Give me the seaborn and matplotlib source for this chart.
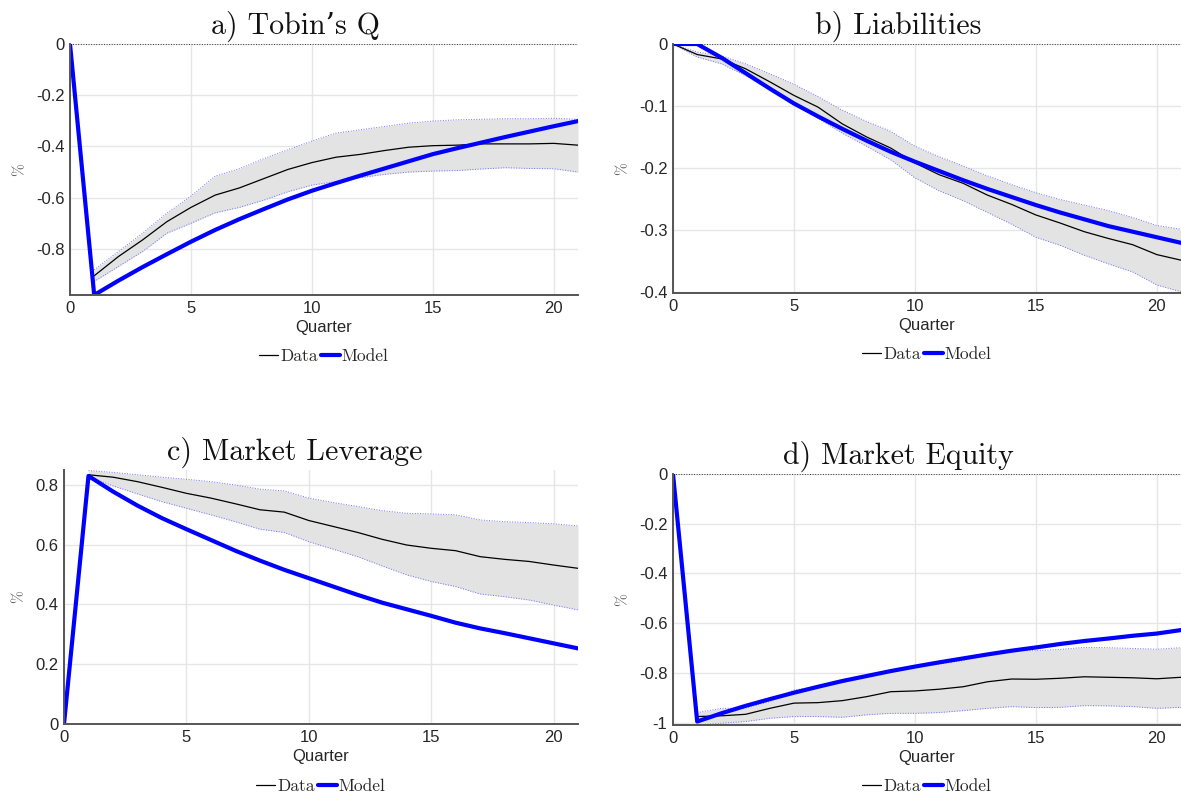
import numpy as np
import pandas as pd
import seaborn as sns
from matplotlib import pyplot as plt
from matplotlib.lines import Line2D

nan = np.nan
quarters = list(range(22))

# a) Tobin's Q
q_data = [nan, -0.905, -0.830, -0.765, -0.694, -0.638, -0.590, -0.562, -0.526, -0.490, -0.463,
          -0.442, -0.431, -0.416, -0.403, -0.397, -0.395, -0.390, -0.390, -0.390, -0.388, -0.395]
q_upper = [nan, -0.882, -0.810, -0.739, -0.661, -0.594, -0.516, -0.487, -0.448, -0.413, -0.379,
           -0.348, -0.335, -0.322, -0.309, -0.301, -0.296, -0.294, -0.292, -0.292, -0.290, -0.294]
q_lower = [nan, -0.927, -0.869, -0.810, -0.739, -0.700, -0.659, -0.638, -0.610, -0.577, -0.551,
           -0.537, -0.522, -0.509, -0.500, -0.496, -0.494, -0.488, -0.483, -0.486, -0.487, -0.500]
q_model = [0.0, -0.980, -0.924, -0.871, -0.821, -0.772, -0.726, -0.684, -0.645, -0.607, -0.573,
           -0.543, -0.514, -0.486, -0.458, -0.430, -0.407, -0.385, -0.363, -0.342, -0.321, -0.301]

# b) Liabilities
l_data = [0.0, -0.017, -0.024, -0.040, -0.061, -0.083, -0.102, -0.129, -0.150, -0.168, -0.192,
          -0.211, -0.225, -0.244, -0.259, -0.276, -0.289, -0.303, -0.314, -0.324, -0.340, -0.349]
l_upper = [0.0, -0.013, -0.019, -0.032, -0.048, -0.065, -0.085, -0.107, -0.125, -0.141, -0.165,
           -0.182, -0.197, -0.213, -0.227, -0.240, -0.251, -0.260, -0.269, -0.280, -0.293, -0.299]
l_lower = [0.0, -0.021, -0.032, -0.051, -0.074, -0.097, -0.120, -0.144, -0.165, -0.187, -0.216,
           -0.237, -0.253, -0.272, -0.291, -0.312, -0.325, -0.341, -0.355, -0.368, -0.389, -0.400]
l_model = [0.0, 0.0, -0.022, -0.047, -0.072, -0.096, -0.117, -0.137, -0.156, -0.174, -0.190,
           -0.205, -0.220, -0.234, -0.247, -0.260, -0.272, -0.283, -0.294, -0.303, -0.312, -0.321]

# c) Market Leverage
m_data = [nan, 0.834, 0.826, 0.811, 0.792, 0.772, 0.756, 0.737, 0.717, 0.709, 0.681,
          0.661, 0.641, 0.618, 0.599, 0.588, 0.580, 0.560, 0.551, 0.544, 0.532, 0.521]
m_upper = [nan, 0.848, 0.842, 0.834, 0.826, 0.819, 0.811, 0.800, 0.786, 0.780, 0.756,
           0.741, 0.728, 0.714, 0.705, 0.703, 0.700, 0.683, 0.677, 0.674, 0.670, 0.663]
m_lower = [nan, 0.828, 0.797, 0.770, 0.744, 0.722, 0.700, 0.677, 0.652, 0.641, 0.610,
           0.585, 0.560, 0.529, 0.499, 0.477, 0.460, 0.435, 0.426, 0.415, 0.398, 0.382]
m_model = [0.0, 0.830, 0.778, 0.731, 0.689, 0.652, 0.616, 0.580, 0.547, 0.516, 0.488,
           0.460, 0.432, 0.406, 0.384, 0.362, 0.339, 0.320, 0.304, 0.287, 0.270, 0.253]

# d) Market Equity
e_data = [nan, -0.976, -0.973, -0.967, -0.943, -0.922, -0.920, -0.912, -0.896, -0.876, -0.873,
          -0.866, -0.856, -0.836, -0.825, -0.826, -0.822, -0.816, -0.818, -0.820, -0.824, -0.818]
e_upper = [nan, -0.960, -0.943, -0.943, -0.916, -0.869, -0.856, -0.840, -0.818, -0.791, -0.778,
           -0.765, -0.751, -0.725, -0.711, -0.711, -0.706, -0.698, -0.699, -0.702, -0.705, -0.699]
e_lower = [nan, -1.009, -1.003, -0.996, -0.983, -0.976, -0.976, -0.979, -0.969, -0.963, -0.963,
           -0.960, -0.952, -0.943, -0.936, -0.940, -0.939, -0.932, -0.933, -0.936, -0.943, -0.939]
e_model = [0.0, -0.996, -0.963, -0.933, -0.906, -0.880, -0.856, -0.833, -0.813, -0.793, -0.775,
           -0.758, -0.742, -0.726, -0.711, -0.698, -0.684, -0.672, -0.662, -0.651, -0.642, -0.628]

titles = ["a) Tobin\u2019s Q", "b) Liabilities", "c) Market Leverage", "d) Market Equity"]
ylims = [(-0.98, 0), (-0.402, 0), (0, 0.85), (-1.01, 0)]
yticks = [[-0.8, -0.6, -0.4, -0.2, 0], [-0.4, -0.3, -0.2, -0.1, 0],
          [0, 0.2, 0.4, 0.6, 0.8], [-1, -0.8, -0.6, -0.4, -0.2, 0]]
yticklabels = [["-0.8", "-0.6", "-0.4", "-0.2", "0"], ["-0.4", "-0.3", "-0.2", "-0.1", "0"],
               ["0", "0.2", "0.4", "0.6", "0.8"], ["-1", "-0.8", "-0.6", "-0.4", "-0.2", "0"]]

panels = [(q_data, q_upper, q_lower, q_model), (l_data, l_upper, l_lower, l_model),
          (m_data, m_upper, m_lower, m_model), (e_data, e_upper, e_lower, e_model)]

# axes boxes in pixels (left, top, right, bottom) of a 1181x798 figure
boxes = [(70, 44, 578, 295), (673, 44, 1181, 293), (64, 470, 578, 724), (673, 474, 1181, 725)]
title_x = [0.443, 0.443, 0.449, 0.443]

sns.set_theme(style="whitegrid")
plt.rcParams["font.family"] = ["Liberation Sans", "DejaVu Sans"]
plt.rcParams["axes.unicode_minus"] = False

W, H = 1181, 798
fig = plt.figure(figsize=(W / 100, H / 100), dpi=100)
fig.patch.set_facecolor("white")

serif = ["cmr10", "DejaVu Serif"]

for i in range(4):
    data, upper, lower, model = panels[i]
    l, t, r, b = boxes[i]
    ax = fig.add_axes([l / W, (H - b) / H, (r - l) / W, (b - t) / H])
    ax.set_facecolor("white")

    df = pd.DataFrame({"Quarter": quarters, "data": data, "upper": upper,
                       "lower": lower, "model": model})
    band = df.dropna()
    ax.fill_between(band["Quarter"], band["lower"], band["upper"], color="#e3e3e3",
                    linewidth=0, zorder=1)
    sns.lineplot(data=band, x="Quarter", y="upper", ax=ax, color="#7070ff", lw=0.7,
                 linestyle=":", zorder=2)
    sns.lineplot(data=band, x="Quarter", y="lower", ax=ax, color="#7070ff", lw=0.7,
                 linestyle=":", zorder=2)
    ax.axhline(0, color="#333333", lw=0.7, linestyle=":", zorder=2)
    sns.lineplot(data=band, x="Quarter", y="data", ax=ax, color="black", lw=0.9, zorder=3)
    sns.lineplot(data=df, x="Quarter", y="model", ax=ax, color="#0000ff", lw=3.0, zorder=4)

    ax.set_xlim(0, 21)
    ax.set_ylim(*ylims[i])
    ax.set_xticks([0, 5, 10, 15, 20])
    ax.set_xticklabels(["0", "5", "10", "15", "20"])
    ax.set_yticks(yticks[i])
    ax.set_yticklabels(yticklabels[i])
    ax.grid(True, color="#e6e6e6", lw=1.0)
    ax.set_axisbelow(True)
    for s in ["top", "right"]:
        ax.spines[s].set_visible(False)
    for s in ["left", "bottom"]:
        ax.spines[s].set_color("#555555")
        ax.spines[s].set_linewidth(1.4)
        ax.spines[s].set_zorder(5)
    ax.tick_params(axis="both", direction="in", length=4, width=1, color="#555555",
                   labelsize=12, labelcolor="#262626", pad=4)

    ax.set_title(titles[i], family=serif, fontsize=21.5, color="#111111", pad=7,
                 x=title_x[i])
    ax.set_xlabel("Quarter", fontsize=12, color="#262626", labelpad=3)
    ax.set_ylabel("%", family=serif, fontsize=11, color="#555555", labelpad=7)

    handles = [Line2D([], [], color="black", lw=0.9), Line2D([], [], color="#0000ff", lw=3.0)]
    ax.legend(handles, ["Data", "Model"], loc="center", bbox_to_anchor=(0.5, -0.245),
              ncol=2, frameon=False, handlelength=1.1, handletextpad=0.1,
              columnspacing=0.2, prop={"family": serif, "size": 12.5})

fig.savefig("out.png", dpi=100)
